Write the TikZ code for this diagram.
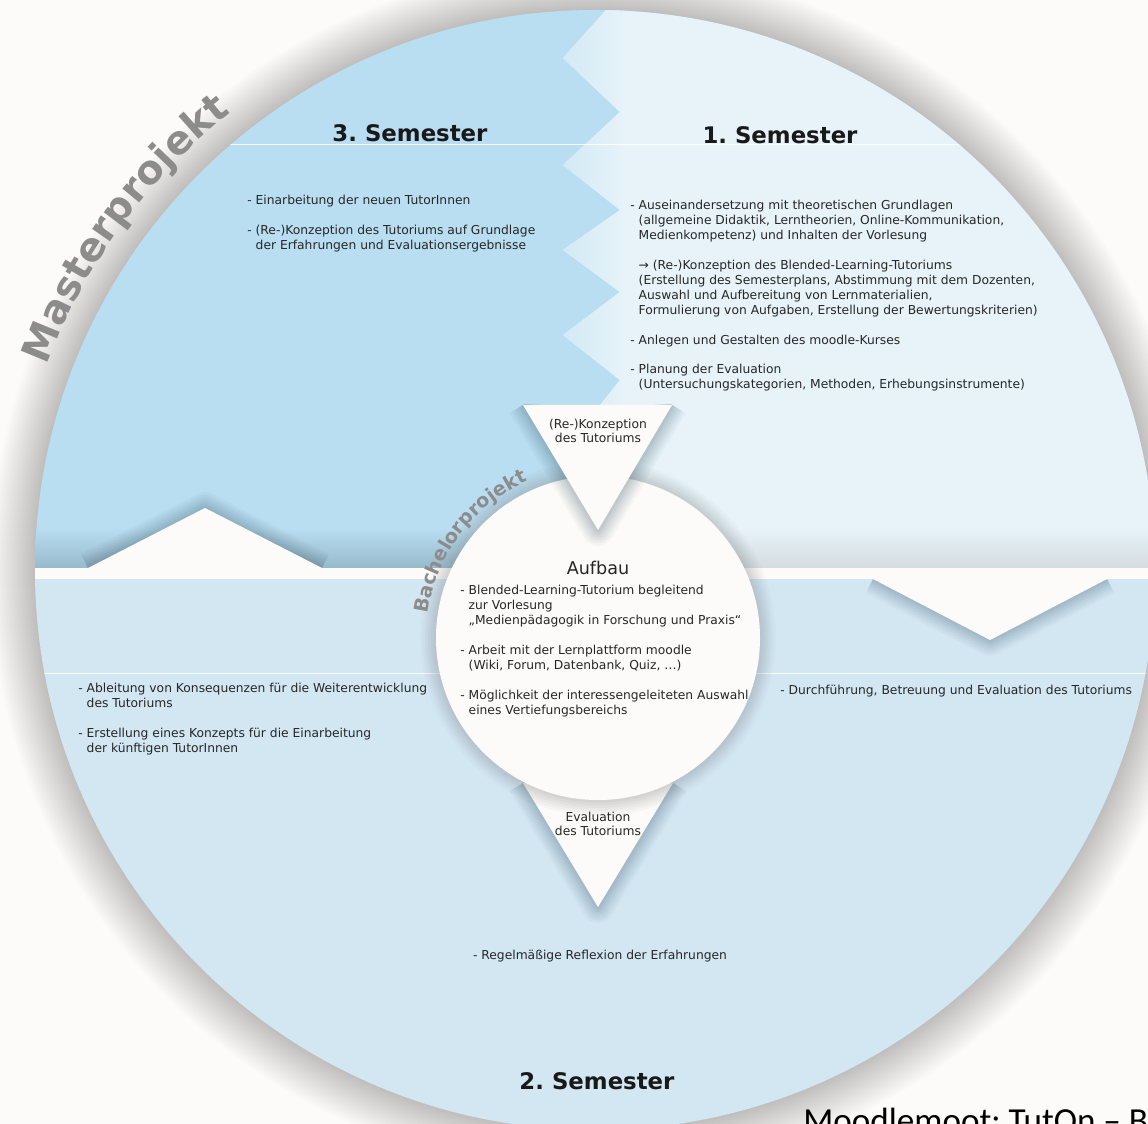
\documentclass[tikz,border=0pt]{standalone}
\usepackage{fontspec}
\setmainfont{DejaVu Sans}
\newfontfamily\slidefont{Carlito}
\usetikzlibrary{decorations.text}
\definecolor{PageWhite}{HTML}{FDFBF9}
\definecolor{SemThree}{HTML}{B9DEF1}
\definecolor{SemOne}{HTML}{E7F3F9}
\definecolor{SemTwo}{HTML}{D3E7F3}
\definecolor{ProjGray}{HTML}{8C8C8C}
\definecolor{EdgeShade}{HTML}{3F5A6A}
\definecolor{TextDark}{HTML}{262626}
\newcommand{\listindent}{\hphantom{- }}
\frenchspacing

\begin{document}
\begin{tikzpicture}[x=0.02cm, y=-0.02cm,
    body/.style={font=\fontsize{7}{8.5}\selectfont, text=TextDark, inner sep=0pt, align=left, anchor=north west},
    heading/.style={font=\fontsize{13}{15}\selectfont\bfseries, text=black!90, inner sep=0pt, anchor=base},
    tritext/.style={font=\fontsize{7}{7.9}\selectfont, text=TextDark, inner sep=0pt, align=center},
    softedge/.style={
        preaction={draw=#1, line width=18pt, opacity=.045, line join=round},
        preaction={draw=#1, line width=15pt, opacity=.05, line join=round},
        preaction={draw=#1, line width=12pt, opacity=.055, line join=round},
        preaction={draw=#1, line width=9pt, opacity=.06, line join=round},
        preaction={draw=#1, line width=6pt, opacity=.065, line join=round},
        preaction={draw=#1, line width=3pt, opacity=.07, line join=round}}
]
    \fill[PageWhite] (0,0) rectangle (1148,1124);
    \useasboundingbox (0,0) rectangle (1148,1124);

    \coordinate (C) at (595,570);   % big circle
    \coordinate (A) at (598,638);   % Aufbau circle

    % glow round the big circle
    \foreach \k in {1,...,30}
        \fill[black, opacity=0.008] (C) circle[radius={560+1.5*\k}];

    % Semester areas
    \begin{scope}
        \clip (C) circle[radius=560];
        \fill[SemThree] (0,0) rectangle (1160,568);
        \fill[SemTwo] (0,568) rectangle (1160,1140);
        \fill[SemOne] (615,0) -- (563,58) -- (620,112) -- (563,165) -- (620,210) -- (563,250)
            -- (620,292) -- (563,335) -- (620,380) -- (600,405) -- (598,568) -- (1160,568) -- (1160,0) -- cycle;
        \begin{scope}
            \clip (615,0) -- (563,58) -- (620,112) -- (563,165) -- (620,210) -- (563,250)
                -- (620,292) -- (563,335) -- (620,380) -- (600,405) -- (660,405) -- (660,0) -- cycle;
            \shade[left color=SemThree!45!SemOne, right color=SemOne] (563,0) rectangle (625,405);
        \end{scope}
        % shadow above the band
        \shade[top color=SemThree, bottom color=SemThree!72!EdgeShade] (0,528) rectangle (598,568);
        \shade[top color=SemOne, bottom color=SemOne!80!gray] (598,528) rectangle (1160,568);
        % thin lines
        \draw[white, line width=0.5pt, opacity=.9] (0,144) -- (1160,144);
        \draw[white, line width=0.5pt, opacity=.9] (0,673) -- (1160,673);
        % mountain and V
        \coordinate (mL) at (88,568);
        \coordinate (mT) at (205,508);
        \coordinate (mR) at (322,568);
        \begin{scope}
            \clip (0,0) rectangle (1160,568);
            \path[softedge=EdgeShade] (mL) -- (mT) -- (mR);
        \end{scope}
        \fill[PageWhite] (mL) -- (mT) -- (mR) -- cycle;
        \coordinate (vL) at (873,579);
        \coordinate (vB) at (990,640);
        \coordinate (vR) at (1107,579);
        \begin{scope}
            \clip (0,579) rectangle (1160,1140);
            \path[softedge=EdgeShade] (vL) -- (vB) -- (vR);
        \end{scope}
        \fill[PageWhite] (vL) -- (vB) -- (vR) -- cycle;
        % band
        \fill[PageWhite] (0,568) rectangle (1160,579);
    \end{scope}

    % Evaluation triangle, Aufbau circle, Konzeption triangle
    \coordinate (bL) at (523,783);
    \coordinate (bT) at (598,907);
    \coordinate (bR) at (673,783);
    \path[softedge=EdgeShade] (bL) -- (bT) -- (bR);
    \fill[PageWhite] (bL) -- (bT) -- (bR) -- cycle;

    \fill[PageWhite, softedge=gray] (A) circle[radius=162];

    \coordinate (tL) at (523,405);
    \coordinate (tB) at (598,530);
    \coordinate (tR) at (672,405);
    \begin{scope}
        \clip (0,405) rectangle (1160,1140);
        \path[softedge=EdgeShade] (tL) -- (tB) -- (tR);
    \end{scope}
    \fill[PageWhite] (tL) -- (tB) -- (tR) -- cycle;

    % curved labels
    \path[decorate, decoration={text along path, text align=center,
        text={|\fontsize{22.6}{26}\selectfont\bfseries\color{ProjGray}|Masterprojekt}}]
        ([shift={(-162:585)}]C) arc[start angle=-162, end angle=-126, radius=585];
    \path[decorate, decoration={text along path, text align=center,
        text={|\fontsize{11}{13}\selectfont\bfseries\color{ProjGray}|Bachelorprojekt}}]
        ([shift={(-178:172)}]A) arc[start angle=-178, end angle=-108, radius=172];

    % headings
    \node[heading] (sem3) at (410,142) {3. Semester};
    \node[heading] (sem1) at (780,144) {1. Semester};
    \node[heading] (sem2) at (597,1089) {2. Semester};
    \node[anchor=base, inner sep=0pt, font=\fontsize{10}{12}\selectfont, text=TextDark] (aufbau) at (598,574) {Aufbau};

    % texts
    \node[body] (list3) at (247,195) {- Einarbeitung der neuen TutorInnen\\[8.5pt]
        - (Re-)Konzeption des Tutoriums auf Grundlage\\
        \listindent der Erfahrungen und Evaluationsergebnisse};
    \node[body] (list1) at (630,200) {- Auseinandersetzung mit theoretischen Grundlagen\\
        \listindent(allgemeine Didaktik, Lerntheorien, Online-Kommunikation,\\
        \listindent Medienkompetenz) und Inhalten der Vorlesung\\[8.5pt]
        \listindent→ (Re-)Konzeption des Blended-Learning-Tutoriums\\
        \listindent(Erstellung des Semesterplans, Abstimmung mit dem Dozenten,\\
        \listindent Auswahl und Aufbereitung von Lernmaterialien,\\
        \listindent Formulierung von Aufgaben, Erstellung der Bewertungskriterien)\\[8.5pt]
        - Anlegen und Gestalten des moodle-Kurses\\[8.5pt]
        - Planung der Evaluation\\
        \listindent(Untersuchungskategorien, Methoden, Erhebungsinstrumente)};
    \node[body] (listA) at (460,585) {- Blended-Learning-Tutorium begleitend\\
        \listindent zur Vorlesung\\
        \listindent„Medienpädagogik in Forschung und Praxis“\\[8.5pt]
        - Arbeit mit der Lernplattform moodle\\
        \listindent(Wiki, Forum, Datenbank, Quiz, …)\\[8.5pt]
        - Möglichkeit der interessengeleiteten Auswahl\\
        \listindent eines Vertiefungsbereichs};
    \node[body] (list2a) at (78,683) {- Ableitung von Konsequenzen für die Weiterentwicklung\\
        \listindent des Tutoriums\\[8.5pt]
        - Erstellung eines Konzepts für die Einarbeitung\\
        \listindent der künftigen TutorInnen};
    \node[body] (list2b) at (780,685) {- Durchführung, Betreuung und Evaluation des Tutoriums};
    \node[body, anchor=center] (list2c) at (600,956) {- Regelmäßige Reflexion der Erfahrungen};

    \node[tritext] (konz) at (598,431) {(Re-)Konzeption\\des Tutoriums};
    \node[tritext] (eval) at (598,824) {Evaluation\\des Tutoriums};

    \node[anchor=base west, inner sep=0pt, font=\slidefont\fontsize{20}{24}\selectfont] (footer) at (803,1132) {Moodlemoot: TutOn – B};
\end{tikzpicture}
\end{document}
